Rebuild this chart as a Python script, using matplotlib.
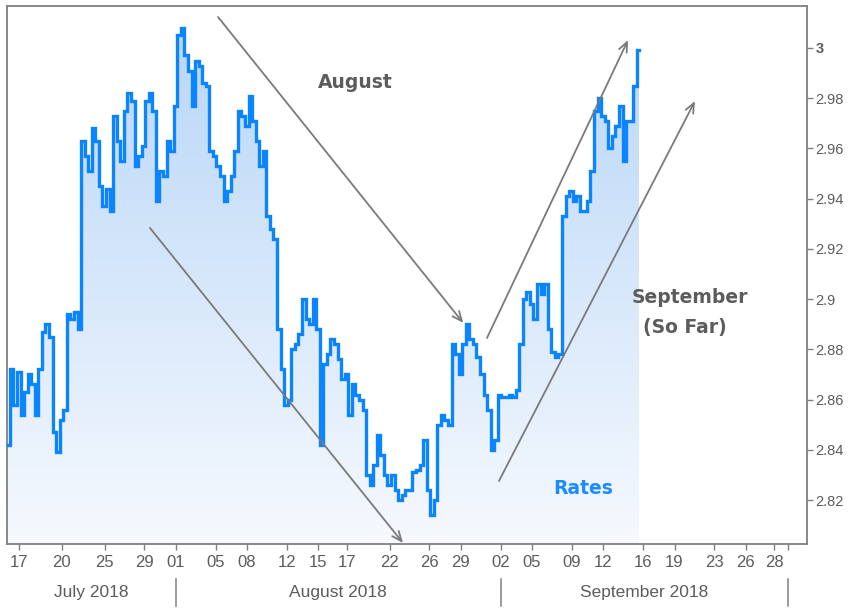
import numpy as np
import matplotlib
matplotlib.use("Agg")
import matplotlib.pyplot as plt
from matplotlib.colors import LinearSegmentedColormap
from matplotlib.transforms import blended_transform_factory
from matplotlib.lines import Line2D

# ---------------- data ----------------
# 10-year Treasury yield, sampled every 6 trading hours (0.25 trading day)
start_day = -0.77          # trading days relative to 2018-07-17
step_days = 0.25
rates = [
    2.842, 2.872, 2.858, 2.871, 2.854, 2.863, 2.870, 2.866, 2.854, 2.872,
    2.887, 2.890, 2.885, 2.847, 2.839, 2.852, 2.856, 2.894, 2.892, 2.895,
    2.888, 2.963, 2.957, 2.951, 2.968, 2.963, 2.945, 2.937, 2.944, 2.935,
    2.973, 2.963, 2.955, 2.975, 2.982, 2.979, 2.953, 2.957, 2.961, 2.979,
    2.982, 2.975, 2.939, 2.951, 2.949, 2.963, 2.959, 2.977, 3.005, 3.008,
    2.997, 2.991, 2.977, 2.995, 2.993, 2.986, 2.985, 2.959, 2.957, 2.953,
    2.949, 2.939, 2.943, 2.949, 2.959, 2.975, 2.973, 2.969, 2.981, 2.971,
    2.963, 2.953, 2.959, 2.933, 2.928, 2.924, 2.888, 2.872, 2.858, 2.860,
    2.880, 2.882, 2.886, 2.900, 2.892, 2.890, 2.900, 2.888, 2.842, 2.874,
    2.878, 2.884, 2.882, 2.876, 2.868, 2.870, 2.854, 2.866, 2.862, 2.860,
    2.856, 2.830, 2.826, 2.834, 2.846, 2.838, 2.830, 2.826, 2.830, 2.824,
    2.820, 2.822, 2.824, 2.824, 2.831, 2.832, 2.834, 2.844, 2.824, 2.814,
    2.820, 2.850, 2.854, 2.852, 2.850, 2.882, 2.878, 2.870, 2.882, 2.890,
    2.884, 2.882, 2.877, 2.870, 2.862, 2.856, 2.840, 2.844, 2.862, 2.861,
    2.861, 2.862, 2.861, 2.864, 2.882, 2.900, 2.903, 2.898, 2.892, 2.906,
    2.902, 2.906, 2.888, 2.879, 2.877, 2.878, 2.933, 2.941, 2.943, 2.939,
    2.941, 2.935, 2.935, 2.939, 2.951, 2.975, 2.980, 2.973, 2.971, 2.960,
    2.965, 2.969, 2.977, 2.955, 2.971, 2.971, 2.985, 2.999,
]

base_date = "2018-07-17"
tick_dates = ["2018-07-17", "2018-07-20", "2018-07-25", "2018-07-29",
              "2018-08-01", "2018-08-05", "2018-08-08", "2018-08-12",
              "2018-08-15", "2018-08-17", "2018-08-22", "2018-08-26",
              "2018-08-29", "2018-09-02", "2018-09-05", "2018-09-09",
              "2018-09-12", "2018-09-16", "2018-09-19", "2018-09-23",
              "2018-09-26", "2018-09-28"]
tick_labels = ["17", "20", "25", "29", "01", "05", "08", "12", "15", "17",
               "22", "26", "29", "02", "05", "09", "12", "16", "19", "23",
               "26", "28"]
month_names = ["July 2018", "August 2018", "September 2018"]
month_starts = ["2018-08-01", "2018-09-02", "2018-10-01"]
y_ticks = [2.82, 2.84, 2.86, 2.88, 2.90, 2.92, 2.94, 2.96, 2.98, 3.00]


def trading_pos(d):
    """Position of a calendar date on the trading-day axis
    (Sunday evening sessions sit just before Monday)."""
    d = np.datetime64(d)
    x = float(np.busday_count(np.datetime64(base_date), d))
    if not np.is_busday(d):
        x -= 0.2
    return x


# ---------------- figure ----------------
fig = plt.figure(figsize=(8.6, 6.08), dpi=100)
ax = fig.add_axes([0.0085, 0.1053, 0.9299, 0.8848])

y = np.array(rates)
x = start_day + step_days * np.arange(len(y))

xlim = (-0.821, 55.3)
ylim = (2.8025, 3.0167)

line_color = "#0a84ff"
txt_gray = "#5c5c5c"

# gradient fill below the line
cmap = LinearSegmentedColormap.from_list("fill", ["#f6f9fe", "#b6d5f7"])
grad = np.linspace(0, 1, 256).reshape(-1, 1)
poly = ax.fill_between(x, y, ylim[0], step="mid", color="none", lw=0)
im = ax.imshow(grad, extent=[xlim[0], xlim[1], ylim[0], ylim[1]],
               origin="lower", aspect="auto", cmap=cmap, zorder=1)
im.set_clip_path(poly.get_paths()[0], transform=ax.transData)

ax.plot(x, y, color=line_color, lw=2.4, zorder=3, drawstyle="steps-mid",
        solid_joinstyle="miter")

ax.set_xlim(*xlim)
ax.set_ylim(*ylim)

# frame
for s in ax.spines.values():
    s.set_color("#808080")
    s.set_linewidth(1.3)

# y axis on right
ax.yaxis.tick_right()
ax.set_yticks(y_ticks)
ax.set_yticklabels([f"{v:g}" for v in y_ticks])
ax.tick_params(axis="y", direction="out", length=4, width=1, color="#808080",
               labelsize=10.5, labelcolor=txt_gray, pad=2)
for lab in ax.get_yticklabels():
    lab.set_family(["Liberation Sans", "DejaVu Sans"])
    if lab.get_text() == "3":
        lab.set_fontweight("bold")

# x axis
narrow = ["Liberation Sans Narrow", "Liberation Sans", "DejaVu Sans"]
tick_pos = [trading_pos(d) for d in tick_dates]
ax.set_xticks(tick_pos + [trading_pos(month_starts[-1])])
ax.set_xticklabels(tick_labels + [""])
ax.tick_params(axis="x", direction="out", length=4, width=1, color="#808080",
               labelsize=12, labelcolor=txt_gray, pad=4)
for lab in ax.get_xticklabels():
    lab.set_family(narrow)

# month labels and separators
trans = blended_transform_factory(ax.transData, ax.transAxes)
bounds = [xlim[0]] + [trading_pos(d) for d in month_starts]
for i, name in enumerate(month_names):
    cx = (bounds[i] + bounds[i + 1]) / 2
    ax.text(cx, -0.09, name, transform=trans, ha="center", va="center",
            fontsize=12.5, color=txt_gray, family=narrow)
for b in bounds[1:]:
    ax.add_line(Line2D([b, b], [-0.065, -0.115], transform=trans,
                       color="#808080", lw=1.1, clip_on=False))

# annotations
arrow_kw = dict(arrowstyle="->,head_length=0.7,head_width=0.3",
                color="#7a7a7a", lw=1.3, shrinkA=0, shrinkB=0)
arrows = [((0.2635, 0.9796), (0.5702, 0.4108)),
          ((0.1784, 0.5874), (0.4948, 0.0019)),
          ((0.5998, 0.3829), (0.7762, 0.9368)),
          ((0.6148, 0.1171), (0.8599, 0.8234))]
for (sx, sy), (ex, ey) in arrows:
    ax.annotate("", xy=(ex, ey), xytext=(sx, sy), xycoords="axes fraction",
                textcoords="axes fraction", arrowprops=arrow_kw, zorder=4)

bold_kw = dict(transform=ax.transAxes, ha="center", va="center",
               fontsize=13.5, fontweight="bold", zorder=5)
ax.text(0.4347, 0.857, "August", color=txt_gray, **bold_kw)
ax.text(0.8537, 0.459, "September", color=txt_gray, **bold_kw)
ax.text(0.847, 0.403, "(So Far)", color=txt_gray, **bold_kw)
ax.text(0.720, 0.104, "Rates", color="#1a8cff", **bold_kw)

fig.savefig("out.png", dpi=100)
